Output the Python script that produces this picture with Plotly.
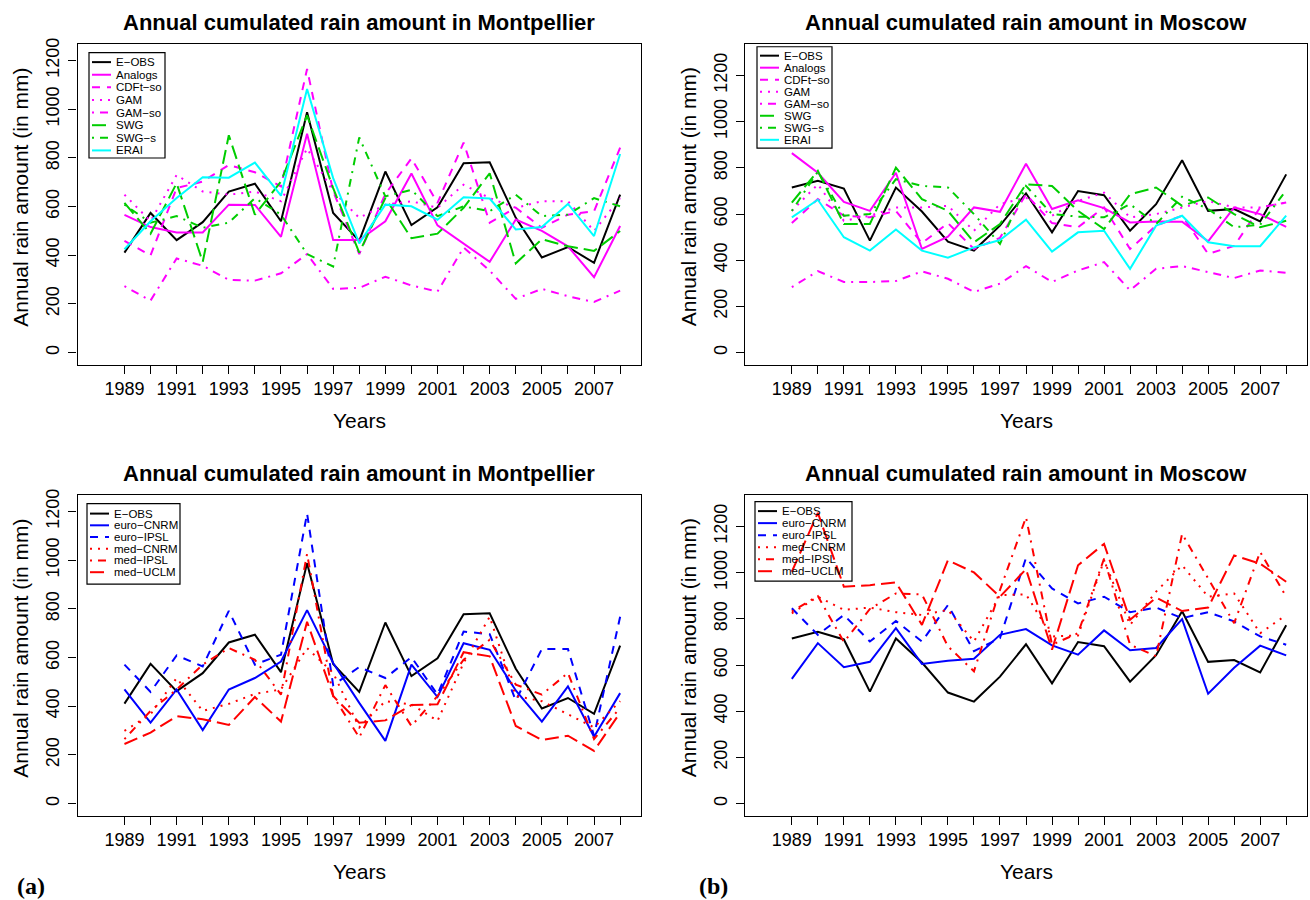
import plotly.graph_objects as go

W, H = 1310, 900

years = list(range(1989, 2009))
year_labels = [str(y) if y % 2 == 1 else "" for y in years]
y_ticks = [0, 200, 400, 600, 800, 1000, 1200]

# Montpellier - observations, reanalysis and statistical downscaling (mm)
mtp_eobs = [411, 574, 462, 536, 662, 694, 540, 988, 574, 459, 744, 524, 597, 778, 782, 554, 391, 434, 369, 649]
mtp_analogs = [566, 516, 494, 494, 608, 607, 476, 899, 463, 463, 540, 736, 523, 448, 373, 547, 500, 437, 310, 520]
mtp_cdft_so = [459, 400, 676, 703, 771, 741, 683, 1165, 662, 405, 652, 798, 615, 863, 534, 595, 513, 567, 581, 842]
mtp_gam = [649, 540, 730, 662, 649, 662, 622, 839, 662, 554, 608, 622, 595, 690, 635, 595, 622, 622, 500, 635]
mtp_gam_so = [273, 214, 387, 357, 299, 296, 326, 405, 262, 266, 312, 276, 251, 432, 337, 221, 262, 232, 208, 255]
mtp_swg = [615, 489, 696, 373, 893, 567, 703, 975, 676, 411, 635, 470, 489, 595, 737, 367, 466, 437, 418, 500]
mtp_swg_s = [608, 534, 561, 513, 534, 635, 567, 405, 354, 884, 642, 669, 561, 601, 581, 649, 561, 567, 635, 601]
mtp_erai = [425, 540, 635, 721, 719, 781, 645, 1083, 717, 449, 608, 601, 546, 638, 633, 506, 516, 611, 479, 816]

# Moscow - observations, reanalysis and statistical downscaling (mm)
msk_eobs = [715, 744, 711, 485, 715, 611, 481, 442, 550, 690, 521, 700, 682, 528, 643, 833, 614, 622, 568, 772]
msk_analogs = [864, 779, 653, 614, 779, 449, 502, 629, 610, 818, 622, 660, 626, 564, 568, 567, 482, 629, 600, 545]
msk_cdft_so = [561, 665, 593, 586, 614, 474, 561, 449, 497, 686, 561, 543, 629, 449, 550, 593, 428, 462, 629, 650]
msk_gam = [614, 729, 571, 593, 629, 629, 636, 528, 643, 672, 593, 657, 693, 586, 600, 629, 657, 629, 629, 650]
msk_gam_so = [284, 353, 306, 306, 310, 352, 320, 263, 299, 375, 306, 356, 392, 270, 363, 375, 349, 323, 356, 346]
msk_swg = [650, 787, 557, 557, 801, 665, 614, 478, 557, 729, 722, 614, 535, 686, 715, 636, 672, 600, 543, 571]
msk_swg_s = [614, 784, 593, 600, 751, 722, 715, 600, 471, 722, 600, 589, 586, 643, 557, 675, 622, 543, 554, 703]
msk_erai = [586, 662, 500, 442, 533, 442, 411, 456, 488, 576, 438, 521, 528, 363, 550, 593, 478, 461, 461, 593]

# Montpellier - regional climate models (mm)
mtp_euro_cnrm = [469, 333, 469, 302, 469, 516, 584, 795, 578, 414, 258, 571, 438, 659, 632, 465, 337, 482, 275, 454]
mtp_euro_ipsl = [571, 459, 609, 564, 792, 571, 612, 1192, 487, 561, 516, 602, 448, 707, 696, 424, 635, 635, 279, 768]
mtp_med_cnrm = [299, 367, 516, 381, 410, 451, 469, 639, 537, 313, 421, 408, 340, 578, 768, 442, 421, 367, 313, 421]
mtp_med_ipsl = [265, 381, 469, 571, 639, 591, 448, 1026, 442, 272, 487, 319, 442, 591, 673, 489, 448, 537, 265, 394]
mtp_med_uclm = [245, 292, 359, 347, 323, 438, 337, 747, 442, 332, 342, 405, 408, 622, 605, 319, 261, 279, 217, 374]

# Moscow - regional climate models (mm)
msk_euro_cnrm = [540, 695, 591, 614, 760, 605, 619, 627, 731, 756, 685, 645, 750, 664, 674, 799, 476, 588, 684, 642]
msk_euro_ipsl = [846, 731, 817, 702, 791, 702, 860, 660, 717, 1064, 932, 867, 896, 829, 849, 803, 829, 789, 724, 688]
msk_med_cnrm = [824, 896, 839, 849, 829, 817, 839, 702, 903, 906, 724, 728, 1054, 774, 918, 1032, 896, 910, 738, 817]
msk_med_ipsl = [832, 899, 700, 843, 910, 906, 681, 573, 925, 1240, 688, 738, 1061, 688, 638, 1168, 975, 781, 1090, 896]
msk_med_uclm = [1004, 1259, 939, 946, 958, 774, 1054, 1001, 896, 1015, 667, 1032, 1125, 796, 892, 834, 849, 1075, 1039, 961]

MAG, GRN, CYA, BLU, RED = "#ff00ff", "#00cd00", "#00ffff", "#0000ff", "#ff0000"
DASH = {
    "solid": "solid",
    "dashed": "8px,7px",
    "dotted": "2px,6px",
    "dotdash": "2px,6px,8px,6px",
    "longdash": "14px,6px",
}

stat_series = lambda d: [
    ("E\u2212OBS", d[0], "black", "solid"),
    ("Analogs", d[1], MAG, "solid"),
    ("CDFt\u2212so", d[2], MAG, "dashed"),
    ("GAM", d[3], MAG, "dotted"),
    ("GAM\u2212so", d[4], MAG, "dotdash"),
    ("SWG", d[5], GRN, "longdash"),
    ("SWG\u2212s", d[6], GRN, "dotdash"),
    ("ERAI", d[7], CYA, "solid"),
]
rcm_series = lambda d: [
    ("E\u2212OBS", d[0], "black", "solid"),
    ("euro\u2212CNRM", d[1], BLU, "solid"),
    ("euro\u2212IPSL", d[2], BLU, "dashed"),
    ("med\u2212CNRM", d[3], RED, "dotted"),
    ("med\u2212IPSL", d[4], RED, "dotdash"),
    ("med\u2212UCLM", d[5], RED, "longdash"),
]

panels = [
    dict(title="Annual cumulated rain amount in Montpellier", xd=(77.5, 641), yd=(38, 361), yr=(-49, 1269),
         series=stat_series([mtp_eobs, mtp_analogs, mtp_cdft_so, mtp_gam, mtp_gam_so, mtp_swg, mtp_swg_s, mtp_erai]),
         leg=(89, 47, 76, 106, 56.5, 12.7)),
    dict(title="Annual cumulated rain amount in Moscow", xd=(745, 1307), yd=(38, 361), yr=(-51.6, 1337.6),
         series=stat_series([msk_eobs, msk_analogs, msk_cdft_so, msk_gam, msk_gam_so, msk_swg, msk_swg_s, msk_erai]),
         leg=(757, 41, 75, 102, 50, 12.1)),
    dict(title="Annual cumulated rain amount in Montpellier", xd=(77.5, 641), yd=(492, 815), yr=(-49, 1269),
         series=rcm_series([mtp_eobs, mtp_euro_cnrm, mtp_euro_ipsl, mtp_med_cnrm, mtp_med_ipsl, mtp_med_uclm]),
         leg=(87, 501, 93, 81, 511, 11.8)),
    dict(title="Annual cumulated rain amount in Moscow", xd=(745, 1307), yd=(492, 815), yr=(-51.6, 1337.6),
         series=rcm_series([msk_eobs, msk_euro_cnrm, msk_euro_ipsl, msk_med_cnrm, msk_med_ipsl, msk_med_uclm]),
         leg=(755, 499, 97, 80, 508.5, 12.1)),
]


def fx(x):
    return x / W


def fy(y):
    return 1 - y / H


fig = go.Figure()
shapes, annotations = [], []
SANS = "Liberation Sans, Arial, sans-serif"

for i, p in enumerate(panels):
    n = "" if i == 0 else str(i + 1)
    for name, vals, color, dash in p["series"]:
        fig.add_trace(go.Scatter(
            x=years, y=vals, mode="lines", name=name, showlegend=False,
            line=dict(color=color, width=2, dash=DASH[dash]),
            xaxis="x" + n, yaxis="y" + n,
        ))

    axis_common = dict(showline=True, mirror=True, linecolor="black", linewidth=1.2,
                       ticks="outside", ticklen=8, tickcolor="black", tickwidth=1,
                       showgrid=False, zeroline=False,
                       tickfont=dict(family=SANS, size=18, color="black"))
    fig.layout["xaxis" + n] = dict(
        axis_common, domain=[fx(p["xd"][0]), fx(p["xd"][1])], range=[1987.2, 2008.8],
        anchor="y" + n, tickmode="array", tickvals=years, ticktext=year_labels,
        ticklabelstandoff=0)
    fig.layout["yaxis" + n] = dict(
        axis_common, domain=[fy(p["yd"][1]), fy(p["yd"][0])], range=list(p["yr"]),
        anchor="x" + n, tickmode="array", tickvals=y_ticks, tickangle=-90,
        ticklabelstandoff=2)

    cx = (p["xd"][0] + p["xd"][1]) / 2
    cy = (p["yd"][0] + p["yd"][1]) / 2
    annotations.append(dict(text="<b>" + p["title"] + "</b>", x=fx(cx), y=fy(p["yd"][0] - 21),
                            xref="paper", yref="paper", showarrow=False, xanchor="center", yanchor="middle",
                            font=dict(family=SANS, size=22, color="black")))
    annotations.append(dict(text="Years", x=fx(cx), y=fy(p["yd"][1] + 56),
                            xref="paper", yref="paper", showarrow=False, xanchor="center", yanchor="middle",
                            font=dict(family=SANS, size=21, color="black")))
    annotations.append(dict(text="Annual rain amount (in mm)", x=fx(p["xd"][0] - 57), y=fy(cy - 7),
                            xref="paper", yref="paper", showarrow=False, xanchor="center", yanchor="middle",
                            textangle=-90, font=dict(family=SANS, size=21, color="black")))

    # R-style legend box: line samples and labels
    lx, ly, lw, lh, row0, step = p["leg"]
    shapes.append(dict(type="rect", xref="paper", yref="paper", layer="above",
                       x0=fx(lx), x1=fx(lx + lw), y0=fy(ly + lh), y1=fy(ly),
                       line=dict(color="black", width=1.2), fillcolor="rgba(0,0,0,0)"))
    for k, (name, vals, color, dash) in enumerate(p["series"]):
        yy = row0 + k * step
        shapes.append(dict(type="line", xref="paper", yref="paper", layer="above",
                           x0=fx(lx + 3), x1=fx(lx + 22), y0=fy(yy), y1=fy(yy),
                           line=dict(color=color, width=2, dash=DASH[dash])))
        annotations.append(dict(text=name, x=fx(lx + 25), y=fy(yy), xref="paper", yref="paper",
                                showarrow=False, xanchor="left", yanchor="middle",
                                font=dict(family=SANS, size=11.5, color="black")))

for lab, x in [("(a)", 31), ("(b)", 713)]:
    annotations.append(dict(text="<b>" + lab + "</b>", x=fx(x), y=fy(886), xref="paper", yref="paper",
                            showarrow=False, xanchor="center", yanchor="middle",
                            font=dict(family="Liberation Serif, Times New Roman, serif", size=24, color="black")))

fig.update_layout(
    width=W, height=H,
    margin=dict(l=0, r=0, t=0, b=0),
    paper_bgcolor="white", plot_bgcolor="white",
    showlegend=False,
    shapes=shapes, annotations=annotations,
)

# drop the default page margin so the figure sits at the window origin
fig.write_html("out.html", config={"displayModeBar": False},
               post_script="document.body.style.margin='0';document.body.style.overflow='hidden';")
